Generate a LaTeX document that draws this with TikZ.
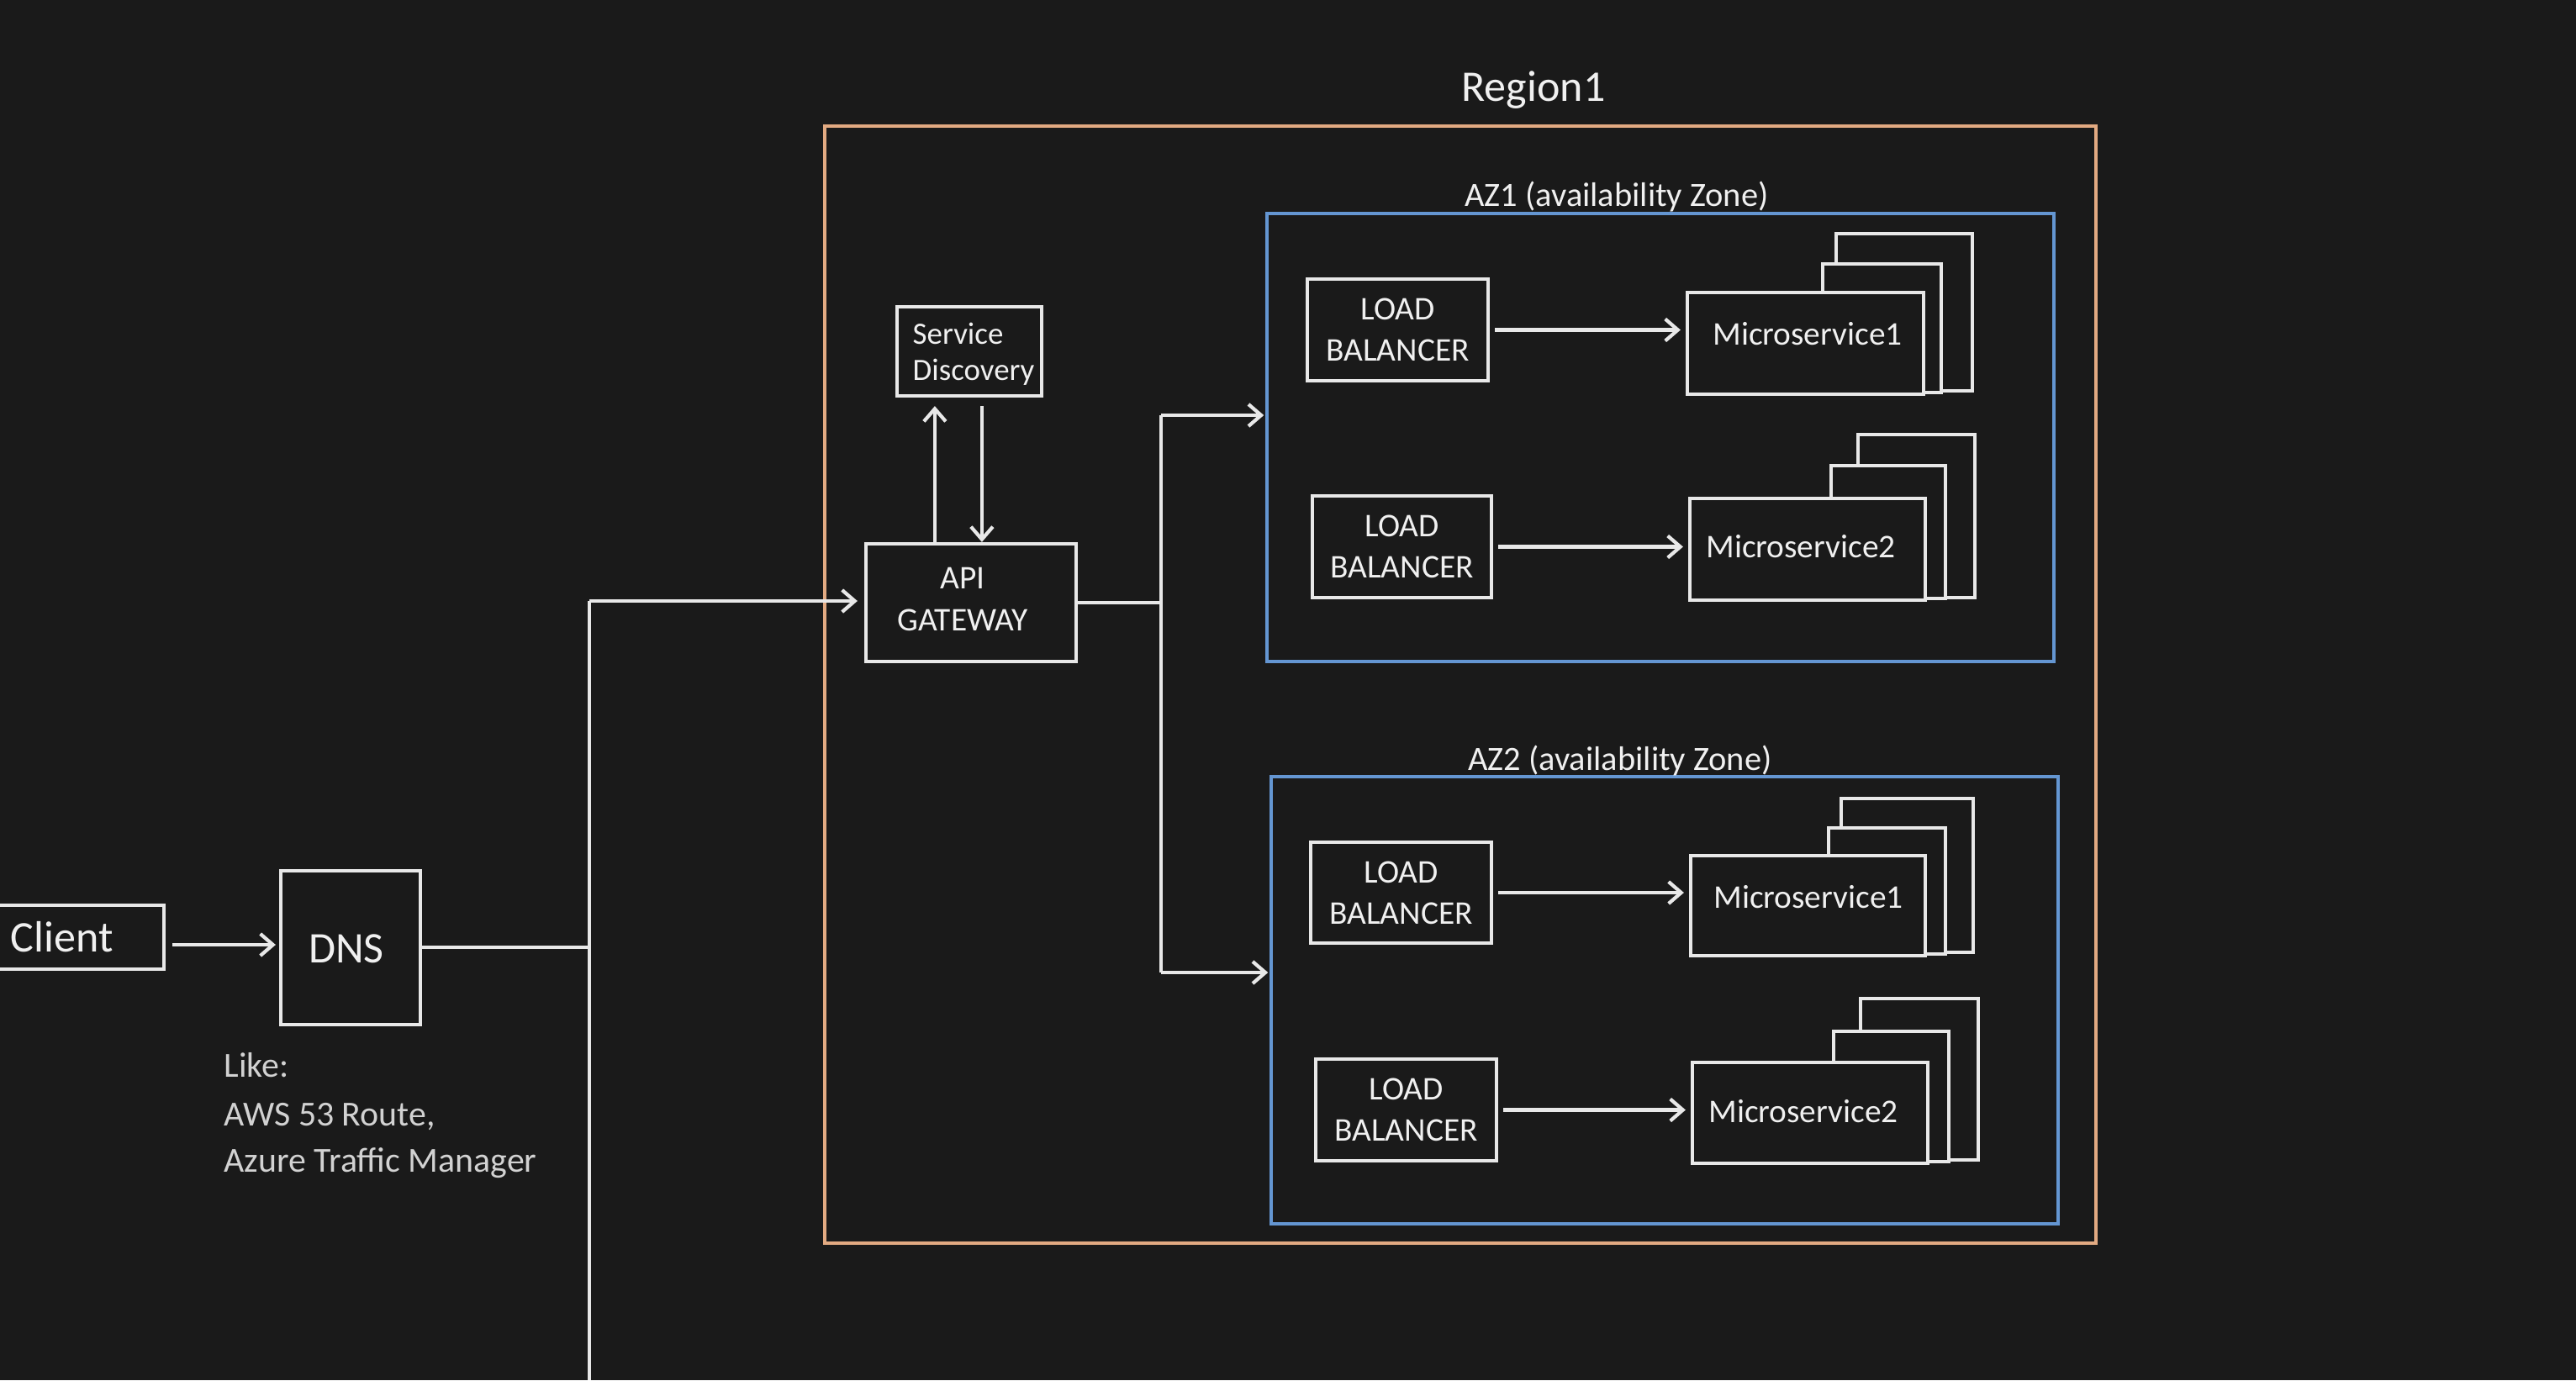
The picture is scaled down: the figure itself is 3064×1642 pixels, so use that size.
\documentclass[tikz,border=0pt]{standalone}
\usepackage{fontspec}
\setmainfont{Carlito}
\usetikzlibrary{arrows.meta,calc,fit}
\definecolor{bg}{RGB}{26,26,26}
\definecolor{ln}{RGB}{232,232,232}
\definecolor{tx}{RGB}{240,240,240}
\definecolor{note}{RGB}{210,210,210}
\definecolor{reg}{RGB}{226,170,130}
\definecolor{azc}{RGB}{100,150,210}
\begin{document}
\begin{tikzpicture}[x=0.01cm,y=-0.01cm,
  box/.style={draw=ln, line width=1.2pt, fill=bg, inner sep=0pt},
  zone/.style={line width=1pt, inner sep=0pt},
  txt/.style={text=tx, inner sep=0pt, align=center, font=\fontsize{11.2}{14}\selectfont},
  big/.style={text=tx, inner sep=0pt, font=\fontsize{14.8}{17}\selectfont},
  zlbl/.style={text=tx, inner sep=0pt, font=\fontsize{11.5}{14}\selectfont},
  arr/.style={draw=ln, line width=1.2pt, -{Straight Barb[length=0.15cm,width=0.26cm]}},
  wire/.style={draw=ln, line width=1.2pt},
]
\fill[bg] (0,0) rectangle (3064,1642);
\useasboundingbox (0,0) rectangle (3064,1642);

% Region and zones
\node[zone, draw=reg, fit={(981,150) (2493,1479)}] (region) {};
\node[big, anchor=base] (regiont) at (1824,120) {Region1};
\node[zone, draw=azc, fit={(1507,254) (2443,787)}] (az1) {};
\node[zlbl, anchor=base] (az1t) at (1923,245) {AZ1 (availability Zone)};
\node[zone, draw=azc, fit={(1512,924) (2448,1456)}] (az2) {};
\node[zlbl, anchor=base] (az2t) at (1927,916) {AZ2 (availability Zone)};

% Client and DNS
\node[box, fit={(-20,1077) (195,1153)}] (client) {};
\node[big, anchor=west] (clientt) at (12,1115) {Client};
\node[box, fit={(334,1036) (500,1219)}] (dns) {};
\node[big] (dnst) at (412,1129) {DNS};
\node[text=note, inner sep=0pt, anchor=north west, align=left,
      font=\fontsize{11.9}{15.5}\selectfont] (note) at (266,1252)
      {Like:\\[1pt]AWS 53 Route,\\Azure Traffic Manager};

% API gateway and service discovery
\node[box, fit={(1030,647) (1280,787)}] (api) {};
\node[txt] (apit) at (1145,713) {API\\GATEWAY};
\node[box, fit={(1067,365) (1239,471)}] (sd) {};
\node[txt, anchor=west, align=left, font=\fontsize{10.5}{12.3}\selectfont] (sdt) at (1085,421) {Service\\Discovery};

% Load balancers
\node[box, fit={(1555,332) (1770,453)}] (lb11) {};
\node[txt] (lb11t) at (lb11) {LOAD\\BALANCER};
\node[box, fit={(1561,590) (1774,711)}] (lb12) {};
\node[txt] (lb12t) at (lb12) {LOAD\\BALANCER};
\node[box, fit={(1559,1002) (1774,1122)}] (lb21) {};
\node[txt] (lb21t) at (lb21) {LOAD\\BALANCER};
\node[box, fit={(1565,1260) (1780,1381)}] (lb22) {};
\node[txt] (lb22t) at (lb22) {LOAD\\BALANCER};

% Microservice stacks
\draw[box] (2184,278) rectangle (2346,465);
\draw[box] (2168,314) rectangle (2309,467);
\node[box, fit={(2007,348) (2288,469)}] (ms11) {};
\node[txt] (ms11t) at (2150,397) {Microservice1};

\draw[box] (2210,517) rectangle (2349,711);
\draw[box] (2178,554) rectangle (2314,712);
\node[box, fit={(2010,593) (2290,714)}] (ms12) {};
\node[txt] (ms12t) at (2142,650) {Microservice2};

\draw[box] (2190,950) rectangle (2347,1133);
\draw[box] (2175,985) rectangle (2314,1135);
\node[box, fit={(2011,1018) (2290,1137)}] (ms21) {};
\node[txt] (ms21t) at (2151,1067) {Microservice1};

\draw[box] (2213,1188) rectangle (2353,1380);
\draw[box] (2181,1227) rectangle (2318,1382);
\node[box, fit={(2013,1264) (2293,1384)}] (ms22) {};
\node[txt] (ms22t) at (2145,1322) {Microservice2};

% Connectors
\coordinate (j1) at (701,1127);
\coordinate (j2) at (701,715);
\coordinate (jb) at (701,1642);
\draw[arr, shorten <=0.08cm, shorten >=0.04cm] ($(client.east |- 0,1124)$) -- ($(dns.west |- 0,1124)$);
\draw[wire] (dns.east |- j1) -- (j1);
\draw[wire] (jb) -- (j2);
\draw[arr, shorten >=0.08cm] (j2) -- (j2 -| api.west);

\draw[arr, shorten >=0.1cm] ($(api.north west)+(84,0)$) -- ($(sd.south west)+(47,0)$);
\draw[arr, shorten <=0.1cm] ($(sd.south west)+(103,0)$) -- ($(api.north west)+(140,0)$);

\coordinate (b0) at (1381,717);
\coordinate (b1) at (1381,494);
\coordinate (b2) at (1381,1157);
\draw[wire] (api.east |- b0) -- (b0);
\draw[wire] (b1) -- (b2);
\draw[arr, shorten >=0.02cm] (b1) -- (b1 -| az1.west);
\draw[arr, shorten >=0.02cm] (b2) -- (b2 -| az2.west);

\draw[arr, shorten <=0.06cm, shorten >=0.06cm] (lb11.east) -- (lb11.east -| ms11.west);
\draw[arr, shorten <=0.06cm, shorten >=0.06cm] (lb12.east) -- (lb12.east -| ms12.west);
\draw[arr, shorten <=0.06cm, shorten >=0.06cm] (lb21.east) -- (lb21.east -| ms21.west);
\draw[arr, shorten <=0.06cm, shorten >=0.06cm] (lb22.east) -- (lb22.east -| ms22.west);
\end{tikzpicture}
\end{document}
